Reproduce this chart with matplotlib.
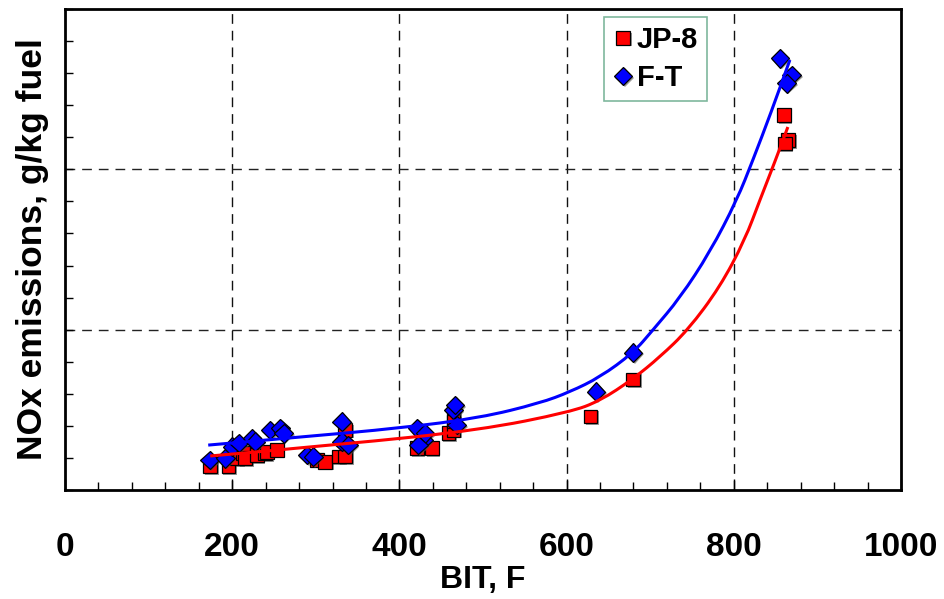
import matplotlib
matplotlib.use("Agg")
import matplotlib.pyplot as plt
import matplotlib.patheffects as pe
from matplotlib.path import Path
from matplotlib.patches import PathPatch
from matplotlib.ticker import MultipleLocator, NullFormatter

plt.rcParams['font.family'] = ['Liberation Sans', 'DejaVu Sans']

# JP-8 measured points
jp8_bit = [173.7, 195.6, 205.6, 213.2, 215.5, 229.5, 239.4, 241.5, 253.4, 301.2, 311.2, 327.1,
           335.1, 335.1, 420.8, 438.7, 458.6, 464.6, 464.6, 464.6, 628.8, 679.6, 860.0, 865.0, 861.0]
jp8_nox = [0.73, 0.73, 0.99, 1.15, 0.99, 1.09, 1.15, 1.19, 1.25, 0.94, 0.88, 1.04,
           1.04, 1.87, 1.30, 1.30, 1.77, 1.87, 2.29, 2.13, 2.29, 3.45, 11.69, 10.91, 10.81]

# F-T measured points
ft_bit = [172.9, 191.6, 199.6, 207.6, 223.5, 227.5, 245.4, 257.4, 261.4, 289.3, 297.2, 331.1,
          331.1, 339.0, 421.5, 428.7, 430.7, 422.7, 464.6, 466.6, 468.6, 635.1, 679.6, 855.1, 869.1, 863.1]
ft_nox = [0.94, 0.99, 1.35, 1.46, 1.61, 1.51, 1.87, 1.92, 1.77, 1.09, 1.04, 2.13,
          1.51, 1.40, 1.92, 1.56, 1.77, 1.40, 2.49, 2.65, 2.03, 3.07, 4.28, 13.46, 12.94, 12.68]

# trend curves
ft_fit_bit = [171.3, 281.3, 400.8, 496.5, 568.2, 604.1, 640.0, 679.4, 703.3, 735.6, 771.5, 803.7, 822.9, 844.4, 867.1]
ft_fit_nox = [1.40, 1.65, 1.93, 2.25, 2.71, 3.06, 3.52, 4.27, 4.99, 5.99, 7.42, 9.04, 10.29, 11.76, 13.41]
jp8_fit_bit = [173.7, 335.1, 496.5, 604.1, 640.0, 679.4, 711.7, 745.2, 783.4, 813.3, 831.2, 849.1, 864.7]
jp8_fit_nox = [1.06, 1.43, 1.87, 2.43, 2.78, 3.46, 4.15, 4.99, 6.33, 7.80, 9.04, 10.23, 11.32]

x_ticks = [0, 200, 400, 600, 800, 1000]


def smooth_curve_patch(xs, ys, color):
    """Quadratic-Bezier path through the midpoints of the read curve points."""
    pts = list(zip(xs, ys))
    verts = [pts[0]]
    codes = [Path.MOVETO]
    for i in range(1, len(pts) - 1):
        mid = ((pts[i][0] + pts[i + 1][0]) / 2, (pts[i][1] + pts[i + 1][1]) / 2)
        verts += [pts[i], mid]
        codes += [Path.CURVE3, Path.CURVE3]
    verts.append(pts[-1])
    codes.append(Path.LINETO)
    return PathPatch(Path(verts, codes), facecolor='none', edgecolor=color,
                     linewidth=2.2, zorder=5, capstyle='butt')


fig = plt.figure(figsize=(9.45, 5.99), dpi=100)
ax = fig.add_axes([0.0688, 0.182, 0.8846, 0.803])

shadow = [pe.SimplePatchShadow(offset=(1.2, -1.2), shadow_rgbFace='#555555', alpha=0.6), pe.Normal()]

ax.plot(jp8_bit, jp8_nox, linestyle='none', marker='s', markersize=9.8, markerfacecolor='#ff0000',
        markeredgecolor='black', markeredgewidth=0.9, label='JP-8', zorder=3, path_effects=shadow)
ax.plot(ft_bit, ft_nox, linestyle='none', marker='D', markersize=9.5, markerfacecolor='#0000ff',
        markeredgecolor='black', markeredgewidth=0.9, label='F-T', zorder=4, path_effects=shadow)
ax.add_patch(smooth_curve_patch(ft_fit_bit, ft_fit_nox, '#0000ff'))
ax.add_patch(smooth_curve_patch(jp8_fit_bit, jp8_fit_nox, '#ff0000'))

ax.set_xlim(0, 1000)
ax.set_ylim(0, 15)
ax.set_xticks(x_ticks)
ax.xaxis.set_minor_locator(MultipleLocator(40))
ax.yaxis.set_major_locator(MultipleLocator(5))
ax.yaxis.set_minor_locator(MultipleLocator(1))
ax.yaxis.set_major_formatter(NullFormatter())

for v in [200, 400, 600, 800]:
    ax.axvline(v, color='#111111', linestyle=(0, (7, 5)), linewidth=1.0, zorder=1)
for v in [5, 10]:
    ax.axhline(v, color='#222222', linestyle=(0, (7, 5)), linewidth=1.0, zorder=1)

ax.tick_params(axis='x', which='both', direction='in', top=False, labelsize=24, pad=30, width=1.0)
ax.tick_params(axis='x', which='major', length=8)
ax.tick_params(axis='x', which='minor', length=6)
ax.tick_params(axis='y', which='both', direction='in', right=False, length=6, width=1.0)
for lab in ax.get_xticklabels():
    lab.set_fontweight('bold')

for s in ax.spines.values():
    s.set_linewidth(2.0)
    s.set_color('black')

ax.set_xlabel('BIT, F', fontsize=23, fontweight='bold', labelpad=2)
ax.set_ylabel('NOx emissions, g/kg fuel', fontsize=25.5, fontweight='bold', labelpad=8)

leg = ax.legend(loc='upper left', bbox_to_anchor=(0.645, 0.983),
                prop={'weight': 'bold', 'size': 21}, frameon=True, fancybox=False,
                handlelength=0.7, handletextpad=0.12, labelspacing=0.35, borderpad=0.3,
                borderaxespad=0.0)
leg.get_frame().set_edgecolor('#5fa585')
leg.get_frame().set_linewidth(1.2)

fig.savefig('out.png', dpi=100)
